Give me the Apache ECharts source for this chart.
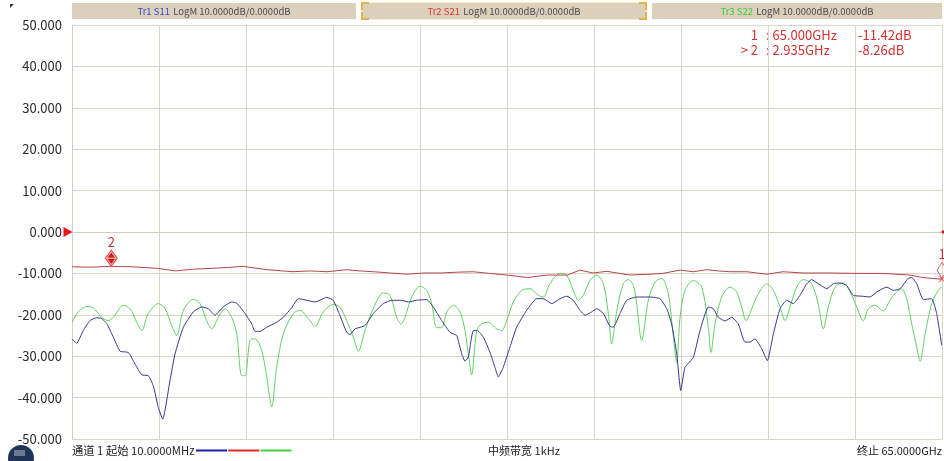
<!DOCTYPE html>
<html>
<head>
<meta charset="utf-8">
<script src="https://cdn.jsdelivr.net/npm/echarts@6/dist/echarts.min.js"></script>
<style>
html,body{margin:0;padding:0;background:#fff;}
#c{width:944px;height:461px;}
</style>
</head>
<body>
<div id="c"></div>
<script>
// Frequency in GHz, level in dB
const s11 = [
[0.01,-25.8],[0.35,-26.9],[0.84,-23.8],[1.34,-21.4],[1.85,-20.7],[2.22,-20.9],[2.59,-22.1],[3.09,-25.4],[3.59,-28.8],[4.21,-29.1],
[4.71,-31.9],[5.21,-34.5],[5.70,-34.7],[6.07,-37.1],[6.45,-42.4],[6.78,-45.2],[7.32,-35.9],[7.70,-29.4],[8.32,-23.0],[9.06,-19.3],
[9.69,-18.1],[10.18,-18.5],[10.68,-20.1],[11.30,-18.1],[11.93,-16.9],[12.31,-17.2],[12.93,-19.7],[13.43,-22.2],[13.67,-24.0],[14.05,-24.0],
[14.55,-23.0],[15.29,-21.8],[15.79,-20.6],[16.41,-18.3],[16.91,-16.1],[17.54,-16.5],[18.16,-16.9],[19.03,-15.8],[19.52,-16.5],[20.02,-20.2],
[20.52,-24.2],[20.77,-24.8],[21.15,-23.4],[21.89,-22.6],[22.51,-19.7],[23.26,-17.3],[23.89,-16.5],[24.63,-16.5],[25.13,-16.9],[25.75,-16.5],
[26.50,-16.3],[26.99,-18.1],[27.62,-21.4],[28.24,-24.2],[28.74,-25.0],[29.11,-29.4],[29.36,-31.2],[29.61,-30.2],[29.98,-23.8],[30.28,-23.8],
[30.73,-25.4],[31.23,-29.1],[31.60,-32.7],[31.85,-35.0],[32.22,-32.7],[32.72,-27.8],[33.22,-23.0],[33.97,-18.9],[34.72,-16.1],[35.21,-16.1],
[35.84,-17.3],[36.46,-16.1],[36.96,-15.5],[37.45,-16.5],[37.95,-18.9],[38.33,-20.1],[38.83,-19.3],[39.20,-18.5],[39.70,-19.7],[40.19,-22.8],
[40.44,-23.0],[40.94,-19.7],[41.44,-16.5],[42.19,-15.7],[43.18,-15.7],[43.93,-16.1],[44.43,-18.5],[44.80,-22.2],[45.18,-29.4],[45.48,-38.3],
[45.80,-32.7],[46.42,-30.3],[46.92,-23.8],[47.54,-18.1],[47.91,-18.5],[48.29,-20.6],[48.79,-21.5],[49.29,-20.6],[49.78,-22.2],[50.28,-26.6],
[50.65,-26.6],[51.03,-25.8],[51.53,-28.2],[51.95,-31.1],[52.40,-24.6],[52.90,-18.5],[53.40,-16.5],[53.89,-17.3],[54.39,-15.3],[54.89,-12.5],
[55.26,-11.5],[55.76,-12.5],[56.39,-13.7],[56.88,-12.5],[57.38,-12.3],[57.88,-12.9],[58.37,-15.3],[59.00,-15.5],[59.62,-15.7],[60.12,-14.5],
[60.87,-13.3],[61.36,-14.1],[61.86,-13.7],[62.48,-11.2],[62.74,-11.0],[63.11,-12.5],[63.60,-16.3],[64.23,-16.1],[64.60,-19.7],[64.98,-27.4]
];
const s21 = [
[0.01,-8.4],[1.3,-8.5],[2.84,-8.3],[4.5,-8.4],[6.45,-8.8],[7.72,-9.4],[9.0,-9.0],[10.31,-8.8],[11.5,-8.6],[12.77,-8.3],
[14.57,-9.1],[16.51,-9.6],[17.8,-9.4],[19.05,-9.6],[20.54,-9.1],[21.52,-9.4],[22.52,-9.6],[23.8,-9.9],[25.02,-10.2],[26.3,-9.9],
[27.52,-9.9],[28.8,-9.7],[29.98,-9.6],[31.2,-10.0],[32.52,-10.4],[34.04,-11.0],[35.51,-10.4],[37.02,-10.4],[37.95,-9.2],[38.92,-9.9],
[39.97,-9.5],[40.9,-10.0],[41.69,-10.4],[43.18,-10.2],[44.14,-10.0],[45.43,-9.2],[46.42,-9.6],[47.42,-9.1],[48.3,-9.4],[49.16,-9.6],
[50.43,-9.6],[51.92,-10.2],[53.12,-9.6],[54.61,-9.9],[56.63,-9.9],[58.64,-10.0],[60.58,-10.0],[62.60,-10.4],[63.57,-11.0],[65.0,-11.42]
];
const s22 = [
[0.01,-21.8],[0.47,-19.3],[1.10,-18.0],[1.59,-18.3],[2.22,-20.6],[2.71,-21.4],[3.09,-20.6],[3.83,-17.7],[4.33,-18.5],[4.83,-21.8],
[5.21,-23.8],[5.70,-19.7],[6.45,-17.3],[6.95,-18.5],[7.45,-22.6],[7.82,-25.0],[8.32,-18.9],[9.06,-16.3],[9.56,-17.3],[10.06,-21.4],
[10.44,-23.4],[10.93,-20.6],[11.43,-18.5],[11.93,-20.6],[12.31,-24.6],[12.68,-34.7],[12.93,-34.7],[13.30,-26.2],[13.67,-25.8],[14.17,-28.6],
[14.55,-35.1],[14.92,-42.2],[15.29,-32.7],[15.79,-24.6],[16.53,-19.7],[17.03,-18.9],[17.65,-20.9],[18.16,-22.8],[18.77,-19.3],[19.52,-17.5],
[20.02,-18.2],[20.52,-21.4],[21.02,-25.4],[21.39,-28.8],[21.89,-23.8],[22.51,-18.5],[23.26,-14.7],[23.76,-15.3],[24.26,-20.6],[24.58,-22.2],
[24.88,-20.6],[25.38,-15.7],[26.00,-13.1],[26.50,-14.1],[26.87,-17.3],[27.25,-23.1],[27.62,-23.1],[28.00,-19.3],[28.49,-17.7],[28.99,-19.3],
[29.36,-23.8],[29.61,-29.4],[29.86,-34.5],[30.24,-23.8],[30.61,-22.2],[31.10,-21.8],[31.73,-23.4],[32.10,-23.8],[32.48,-21.4],[32.97,-16.9],
[33.60,-14.1],[34.22,-13.7],[34.84,-15.3],[35.21,-15.7],[35.71,-12.5],[36.46,-10.0],[36.96,-10.4],[37.45,-14.1],[37.83,-16.5],[38.20,-15.3],
[38.70,-11.7],[39.20,-10.4],[39.70,-12.5],[40.07,-19.7],[40.32,-27.0],[40.69,-19.3],[41.19,-12.5],[41.56,-11.5],[41.94,-12.9],[42.19,-17.5],
[42.56,-26.2],[43.06,-16.5],[43.56,-12.1],[44.06,-11.2],[44.55,-14.9],[44.88,-23.8],[45.18,-31.5],[45.43,-20.6],[45.80,-14.1],[46.42,-11.7],
[47.05,-13.3],[47.54,-23.0],[47.74,-29.1],[48.04,-22.2],[48.54,-15.7],[49.16,-13.3],[49.66,-14.5],[50.03,-18.1],[50.36,-21.4],[50.65,-19.7],
[51.15,-15.7],[51.90,-12.5],[52.40,-14.1],[52.90,-18.1],[53.27,-21.4],[53.64,-18.1],[54.14,-13.3],[54.64,-11.5],[55.26,-12.5],[55.76,-17.5],
[56.13,-23.4],[56.51,-18.1],[57.01,-13.3],[57.63,-12.3],[58.13,-14.5],[58.63,-18.1],[59.12,-21.4],[59.50,-18.5],[59.99,-17.7],[60.61,-19.1],
[61.11,-16.5],[61.61,-14.5],[61.99,-13.7],[62.36,-16.1],[62.74,-22.2],[63.11,-27.8],[63.36,-31.2],[63.74,-24.6],[64.23,-17.3],[64.72,-14.1],
[65.0,-13.3]
];
const markers = [
  {name:'1', freq:65.0, level:-11.42, freqText:'65.000GHz', levelText:'-11.42dB', active:false},
  {name:'2', freq:2.935, level:-8.26, freqText:'2.935GHz', levelText:'-8.26dB', active:true}
];
const yTicks = [-50,-40,-30,-20,-10,0,10,20,30,40,50];
const traceTitles = [
  {tr:'Tr1 S11', rest:'LogM 10.0000dB/0.0000dB', color:'#3c48c0'},
  {tr:'Tr2 S21', rest:'LogM 10.0000dB/0.0000dB', color:'#e03535'},
  {tr:'Tr3 S22', rest:'LogM 10.0000dB/0.0000dB', color:'#3ccc3c'}
];
const footer = {start:'通道 1 起始 10.0000MHz', ifbw:'中频带宽 1kHz', stop:'终止 65.0000GHz'};

const FONT = "'Noto Sans CJK SC','Noto Sans',sans-serif";
const RED = '#d63030';
const chart = echarts.init(document.getElementById('c'), null, {renderer:'canvas'});

const GL = 72, GT = 25, GW = 870, GH = 414;

// header boxes
const graphics = [];
const boxX = [72, 362, 652], boxW = [284, 284, 290];
traceTitles.forEach((t, i) => {
  graphics.push({type:'rect', shape:{x:boxX[i], y:3, width:boxW[i], height:16},
    style:{fill:'#dad0bb', stroke: i===1 ? '#e8d7a8' : null, lineWidth:1}, silent:true});
  graphics.push({type:'text', x:boxX[i]+boxW[i]/2, y:11,
    style:{text:'{a|'+t.tr+'} {b|'+t.rest+'}', align:'center', verticalAlign:'middle',
      rich:{a:{fill:t.color, fontSize:9.5, fontFamily:FONT}, b:{fill:'#4a4a4a', fontSize:9.5, fontFamily:FONT}}}});
});
// gold corner brackets on the active trace box
(function(){
  const x0 = 362, x1 = 646, y0 = 3, y1 = 19, L = 7, c = '#e2b44a';
  [[[x0,y0+L],[x0,y0],[x0+L,y0]], [[x1-L,y0],[x1,y0],[x1,y0+L]],
   [[x0,y1-L],[x0,y1],[x0+L,y1]], [[x1-L,y1],[x1,y1],[x1,y1-L]]].forEach(p => {
    graphics.push({type:'polyline', shape:{points:p}, style:{stroke:c, lineWidth:2, fill:null}, silent:true});
  });
})();
// marker table (top right)
markers.forEach((m, i) => {
  const y = 35 + i*15.5;
  graphics.push({type:'text', x:758, y:y, style:{text:(m.active?'> ':'')+m.name, align:'right', verticalAlign:'middle', fill:RED, fontSize:13, fontFamily:FONT}});
  graphics.push({type:'text', x:766, y:y, style:{text:': '+m.freqText, align:'left', verticalAlign:'middle', fill:RED, fontSize:13, fontFamily:FONT}});
  graphics.push({type:'text', x:858, y:y, style:{text:m.levelText, align:'left', verticalAlign:'middle', fill:RED, fontSize:13, fontFamily:FONT}});
});
// footer
graphics.push({type:'text', x:72, y:451, style:{text:footer.start, align:'left', verticalAlign:'middle', fill:'#222', fontSize:11.3, fontFamily:FONT}});
const lineCols = ['#1c1ca8','#e02828','#3ed23e'];
lineCols.forEach((c, i) => {
  graphics.push({type:'line', shape:{x1:196+i*32.3, y1:450.5, x2:227+i*32.3, y2:450.5}, style:{stroke:c, lineWidth:2}, silent:true});
});
graphics.push({type:'text', x:524, y:451, style:{text:footer.ifbw, align:'center', verticalAlign:'middle', fill:'#222', fontSize:11, fontFamily:FONT}});
graphics.push({type:'text', x:942, y:451, style:{text:footer.stop, align:'right', verticalAlign:'middle', fill:'#222', fontSize:11, fontFamily:FONT}});
// corner decorations
graphics.push({type:'polygon', shape:{points:[[10,4],[14,4],[10,8]]}, style:{fill:'#2a3550'}, silent:true});
graphics.push({type:'circle', shape:{cx:21, cy:458, r:13}, style:{fill:'#1f3558'}, silent:true});
graphics.push({type:'rect', shape:{x:14, y:450, width:11, height:6}, style:{fill:'#6c7a8c'}, silent:true});

const option = {
  animation:false,
  backgroundColor:'#ffffff',
  grid:{left:GL, top:GT, width:GW, height:GH, containLabel:false},
  xAxis:{type:'value', min:0, max:65, interval:6.5,
    axisLine:{show:true, lineStyle:{color:'#d3cfc0', width:1}},
    axisTick:{show:false}, axisLabel:{show:false},
    splitLine:{show:true, lineStyle:{color:'#d9d5c7', width:1}}},
  yAxis:{type:'value', min:yTicks[0], max:yTicks[yTicks.length-1], interval:10,
    axisLine:{show:true, lineStyle:{color:'#d3cfc0', width:1}},
    axisTick:{show:false},
    axisLabel:{show:true, margin:10, color:'#2a2a2a', fontSize:13, fontFamily:FONT,
      formatter:v => v.toFixed(3)},
    splitLine:{show:true, lineStyle:{color:'#d9d5c7', width:1}}},
  graphic:graphics,
  series:[
    {name:'S11', type:'line', data:s11, showSymbol:false, symbol:'none', smooth:0.15, lineStyle:{color:'#35358e', width:1}, z:3},
    {name:'S22', type:'line', data:s22, showSymbol:false, symbol:'none', smooth:0.3, lineStyle:{color:'#62d062', width:1}, z:2},
    {name:'S21', type:'line', data:s21, showSymbol:false, symbol:'none', lineStyle:{color:'#b4464a', width:1}, z:4,
      markPoint:{silent:true, animation:false, data:[
        // reference level triangles
        {coord:[0,0], symbol:'triangle', symbolSize:[10,9], symbolRotate:-90, symbolOffset:[-4,0],
          itemStyle:{color:'#e8141a'}, label:{show:false}},
        {coord:[65,0], symbol:'triangle', symbolSize:[10,9], symbolRotate:90, symbolOffset:[3,0],
          itemStyle:{color:'#e8141a'}, label:{show:false}},
        // active marker 2
        {coord:[markers[1].freq, markers[1].level], symbol:'diamond', symbolSize:[12,16], symbolOffset:[0,-8],
          itemStyle:{color:'#f3a0a0', borderColor:'#e04848', borderWidth:1},
          label:{show:true, formatter:markers[1].name, position:'top', distance:1, color:RED, fontSize:13, fontFamily:FONT}},
        {coord:[markers[1].freq, markers[1].level], symbol:'path://M5,0L10,6L0,6Z M0,8L10,8L5,14Z', symbolSize:[7,11], symbolOffset:[0,-8],
          itemStyle:{color:'#d01818'}, label:{show:false}},
        // inactive marker 1
        {coord:[markers[0].freq, markers[0].level], symbol:'diamond', symbolSize:[10,16], symbolOffset:[0,-9],
          itemStyle:{color:'rgba(255,255,255,0)', borderColor:'#e07070', borderWidth:1},
          label:{show:true, formatter:markers[0].name, position:'top', distance:1, color:RED, fontSize:13, fontFamily:FONT}},
        {coord:[markers[0].freq, markers[0].level], symbol:'path://M0,0L10,10M10,0L0,10', symbolSize:6,
          itemStyle:{color:'none', borderColor:'#e04040', borderWidth:1}, label:{show:false}}
      ]}}
  ]
};
chart.setOption(option);
</script>
</body>
</html>
